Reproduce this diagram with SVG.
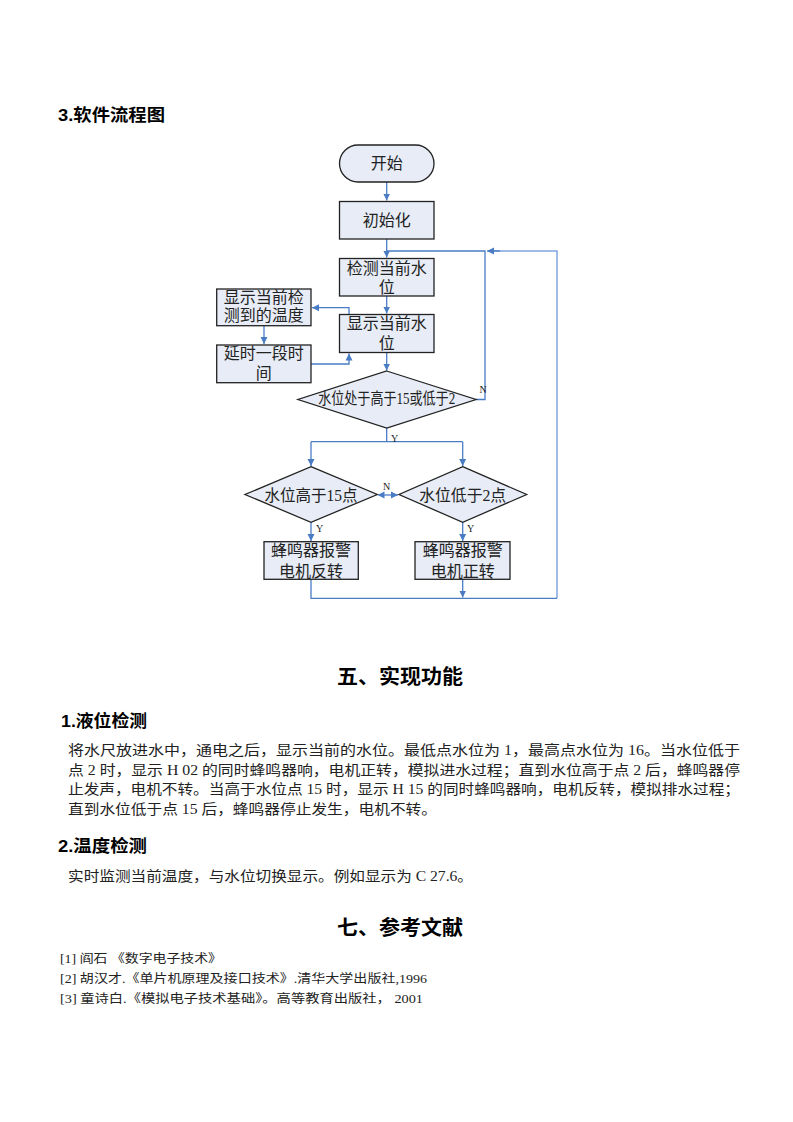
<svg xmlns="http://www.w3.org/2000/svg" width="793" height="1122" viewBox="0 0 793 1122">
<defs>
<marker id="ah" markerWidth="8" markerHeight="8" refX="7" refY="4" orient="auto" markerUnits="userSpaceOnUse">
<path d="M0,0.5 L7,4 L0,7.5 Z" fill="#4A7CC6"/>
</marker>
<marker id="as" markerWidth="8" markerHeight="8" refX="1" refY="4" orient="auto" markerUnits="userSpaceOnUse">
<path d="M7,0.5 L0,4 L7,7.5 Z" fill="#4A7CC6"/>
</marker>
<style>
.box{fill:#E7ECF6;stroke:#222;stroke-width:1.3}
.t{font-family:"Liberation Serif","Noto Sans CJK SC",serif;font-size:16px;fill:#222;text-anchor:middle}
.ts{font-family:"Liberation Serif","Noto Sans CJK SC",serif;font-size:10px;fill:#222}
.c{fill:none;stroke:#4A7CC6;stroke-width:1.3}
.cl{fill:none;stroke:#7FA6DD;stroke-width:1.5}
.h{font-family:"Liberation Sans","Noto Sans CJK SC",sans-serif;font-weight:bold;fill:#000}
.p{font-family:"Liberation Serif","Noto Sans CJK SC",serif;font-size:14px;fill:#222}
.r{font-family:"Liberation Serif","Noto Sans CJK SC",serif;font-size:12px;fill:#222}
</style>
</defs>
<rect width="793" height="1122" fill="#fff"/>

<text class="h" x="58" y="120.5" font-size="17" textLength="107" lengthAdjust="spacingAndGlyphs">3.软件流程图</text>

<g id="connectors">
<path class="c" d="M386.7,182 V200.5" marker-end="url(#ah)"/>
<path class="c" d="M386.7,239 V257.5" marker-end="url(#ah)"/>
<path class="c" d="M386.7,296 V313.5" marker-end="url(#ah)"/>
<path class="c" d="M349,314.5 V307.7 H312" marker-end="url(#ah)"/>
<path class="c" d="M264,325.7 V344" marker-end="url(#ah)"/>
<path class="c" d="M311,364 H349 V353.5" marker-end="url(#ah)"/>
<path class="c" d="M386.7,352.5 V370.5" marker-end="url(#ah)"/>
<path class="c" d="M476,399.5 H485 V251 H386.7"/>
<path class="cl" d="M557,598.3 V251 H488"/>
<path class="c" d="M500,251 H487" marker-end="url(#ah)"/>
<path class="c" d="M386.7,428 V441.7 M311,441.7 H462.7"/>
<path class="c" d="M311,441.7 V466" marker-end="url(#ah)"/>
<path class="c" d="M462.7,441.7 V466" marker-end="url(#ah)"/>
<path class="c" d="M378.5,495 H398" marker-start="url(#as)" marker-end="url(#ah)"/>
<path class="c" d="M311,522.3 V541" marker-end="url(#ah)"/>
<path class="c" d="M462.7,522.3 V541" marker-end="url(#ah)"/>
<path class="c" d="M311,579.3 V598.3 H557"/>
<path class="c" d="M462.7,579.3 V597.5" marker-end="url(#ah)"/>
<text class="ts" x="479.5" y="393">N</text>
<text class="ts" x="391" y="442">Y</text>
<text class="ts" x="383" y="490">N</text>
<text class="ts" x="316" y="532">Y</text>
<text class="ts" x="467" y="532">Y</text>
</g>

<g id="start">
<rect class="box" x="339.5" y="145" width="94.5" height="37" rx="18.5"/>
<text class="t" x="386.7" y="169">开始</text>
</g>
<g id="init">
<rect class="box" x="339.5" y="201.5" width="94.5" height="37.5"/>
<text class="t" x="386.7" y="226">初始化</text>
</g>
<g id="detect">
<rect class="box" x="339.5" y="258.5" width="94.5" height="37.5"/>
<text class="t" x="386.7" y="274">检测当前水</text>
<text class="t" x="386.7" y="292.5">位</text>
</g>
<g id="show">
<rect class="box" x="339.5" y="314.5" width="94.5" height="38"/>
<text class="t" x="386.7" y="328.5">显示当前水</text>
<text class="t" x="386.7" y="349">位</text>
</g>
<g id="temp">
<rect class="box" x="216.7" y="289" width="94.3" height="36.7"/>
<text class="t" x="263.8" y="303">显示当前检</text>
<text class="t" x="263.8" y="321.3">测到的温度</text>
</g>
<g id="delay">
<rect class="box" x="216.7" y="345" width="94.3" height="37.7"/>
<text class="t" x="263.8" y="359">延时一段时</text>
<text class="t" x="263.8" y="379">间</text>
</g>
<g id="dec1">
<polygon class="box" points="386.7,371 476,399.5 386.7,428 298,399.5"/>
<text class="t" x="386.7" y="404" font-size="13" textLength="137" lengthAdjust="spacingAndGlyphs">水位处于高于15或低于2</text>
</g>
<g id="dec2">
<polygon class="box" points="311,466.7 377.3,494.5 311,522.3 245,494.5"/>
<text class="t" x="311" y="500.5" textLength="93" lengthAdjust="spacingAndGlyphs">水位高于15点</text>
</g>
<g id="dec3">
<polygon class="box" points="462.7,466.7 526.7,494.5 462.7,522.3 399,494.5"/>
<text class="t" x="462.7" y="500.5" textLength="87" lengthAdjust="spacingAndGlyphs">水位低于2点</text>
</g>
<g id="rev">
<rect class="box" x="264" y="541.7" width="94.3" height="37.6"/>
<text class="t" x="311" y="556">蜂鸣器报警</text>
<text class="t" x="311" y="577">电机反转</text>
</g>
<g id="fwd">
<rect class="box" x="415" y="541.7" width="95" height="37.6"/>
<text class="t" x="462.7" y="556">蜂鸣器报警</text>
<text class="t" x="462.7" y="577">电机正转</text>
</g>

<text class="h" x="337" y="684" font-size="20" textLength="126" lengthAdjust="spacingAndGlyphs">五、实现功能</text>
<text class="h" x="61" y="726.5" font-size="17" textLength="86" lengthAdjust="spacingAndGlyphs">1.液位检测</text>
<text class="p" x="68" y="755" textLength="672" lengthAdjust="spacingAndGlyphs">将水尺放进水中，通电之后，显示当前的水位。最低点水位为 1，最高点水位为 16。当水位低于</text>
<text class="p" x="68" y="774.5" textLength="672" lengthAdjust="spacingAndGlyphs">点 2 时，显示 H 02 的同时蜂鸣器响，电机正转，模拟进水过程；直到水位高于点 2 后，蜂鸣器停</text>
<text class="p" x="68" y="794" textLength="672" lengthAdjust="spacingAndGlyphs">止发声，电机不转。当高于水位点 15 时，显示 H 15 的同时蜂鸣器响，电机反转，模拟排水过程；</text>
<text class="p" x="68" y="814" textLength="369" lengthAdjust="spacingAndGlyphs">直到水位低于点 15 后，蜂鸣器停止发生，电机不转。</text>
<text class="h" x="58" y="851.5" font-size="17" textLength="89" lengthAdjust="spacingAndGlyphs">2.温度检测</text>
<text class="p" x="68" y="881" textLength="405" lengthAdjust="spacingAndGlyphs">实时监测当前温度，与水位切换显示。例如显示为 C 27.6。</text>

<text class="h" x="337" y="934.5" font-size="20" textLength="126" lengthAdjust="spacingAndGlyphs">七、参考文献</text>
<text class="r" x="60" y="963" textLength="162" lengthAdjust="spacingAndGlyphs">[1] 阎石  《数字电子技术》</text>
<text class="r" x="60" y="983" textLength="367" lengthAdjust="spacingAndGlyphs">[2] 胡汉才.《单片机原理及接口技术》.清华大学出版社,1996</text>
<text class="r" x="60" y="1003" textLength="363" lengthAdjust="spacingAndGlyphs">[3] 童诗白.《模拟电子技术基础》。高等教育出版社， 2001</text>
</svg>
